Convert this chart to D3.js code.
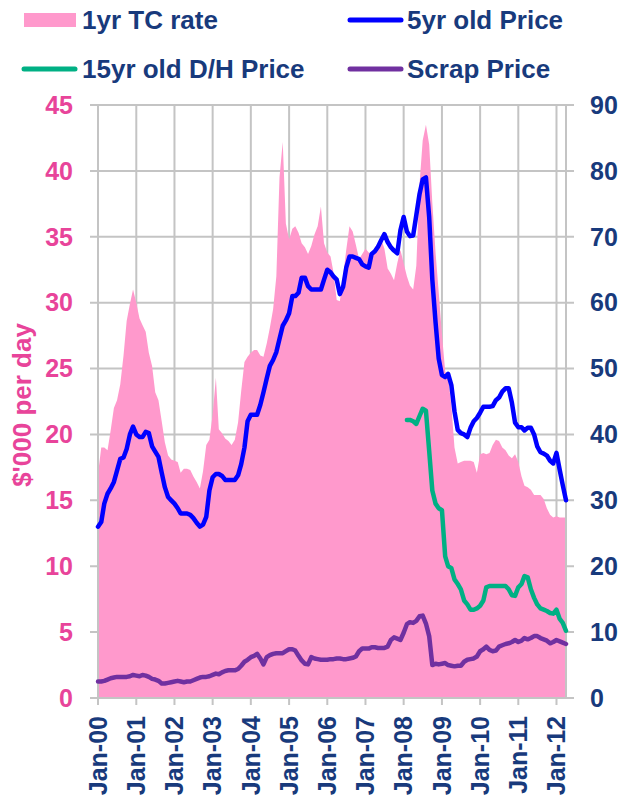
<!DOCTYPE html>
<html><head><meta charset="utf-8">
<script src="https://cdn.jsdelivr.net/npm/d3@7"></script>
<style>
body{margin:0;background:#fff}
svg{display:block}
text{font-family:"Liberation Sans",Arial,sans-serif;font-weight:bold}
</style>
</head><body>
<svg id="c" width="622" height="804"></svg>
<script>
// ---- data (monthly, Jan-2000 .. Apr-2012) ----
const startMonth = "2000-01";
const tcRate = [
 17.0,19.0,19.0,18.8,20.3,22.0,22.6,23.8,26.0,28.6,29.9,31.0,
 30.0,28.8,28.3,27.8,26.2,25.2,23.2,22.6,21.0,19.4,18.4,18.1,
 18.0,17.9,17.1,17.4,17.4,17.3,16.8,16.4,15.9,17.2,19.2,19.6,
 21.5,24.3,20.4,20.1,19.7,19.5,19.2,19.6,20.9,23.3,25.5,25.9,
 26.2,26.4,26.4,26.0,25.9,26.9,28.1,29.5,32.0,39.5,42.2,36.0,
 34.8,35.6,35.8,35.3,34.5,34.2,33.7,34.3,35.2,35.8,37.3,34.5,
 33.8,33.5,32.3,30.2,30.1,32.0,34.0,35.8,35.4,34.4,33.3,33.7,
 34.1,33.8,33.6,34.2,34.5,34.8,34.1,32.6,32.2,31.7,33.0,34.0,
 33.0,32.0,31.3,31.0,32.8,39.0,42.3,43.5,42.0,37.6,33.8,30.8,
 27.6,24.8,24.3,22.2,19.0,17.8,17.9,18.0,18.0,18.0,17.9,17.1,
 18.5,18.6,18.5,18.6,19.2,19.6,19.5,19.0,18.8,18.4,18.2,18.5,
 17.9,16.8,16.1,16.0,15.8,15.4,15.4,15.4,15.1,14.4,13.9,13.7,
 13.8,13.7,13.7,13.7
];
const price5yr = [
 26.0,26.7,29.5,31.0,31.8,32.8,34.5,36.3,36.5,37.8,40.0,41.2,
 40.0,39.6,39.6,40.4,40.2,38.2,37.4,36.6,34.2,32.0,30.5,30.0,
 29.5,28.8,28.0,28.0,28.0,27.8,27.3,26.6,26.0,26.3,27.5,31.5,
 33.5,34.0,34.0,33.7,33.1,33.1,33.1,33.1,33.8,35.5,38.0,42.0,
 43.0,43.0,43.0,44.5,46.4,48.5,50.4,51.3,52.5,54.5,56.5,57.3,
 58.4,61.0,61.0,61.5,63.8,63.8,62.5,62.0,62.0,62.0,62.0,63.5,
 65.0,64.6,64.0,63.5,61.3,62.4,65.3,67.0,67.0,66.8,66.6,65.8,
 65.5,65.3,67.4,67.8,68.5,69.5,70.4,69.2,68.4,67.9,67.5,71.0,
 73.0,70.8,70.1,70.2,73.3,76.5,78.7,79.0,73.0,63.5,57.0,51.5,
 49.0,48.7,49.2,47.5,43.5,40.7,40.2,40.0,39.6,41.0,42.0,42.5,
 43.3,44.2,44.2,44.2,44.3,45.2,45.6,46.5,47.0,47.0,44.8,41.8,
 41.1,41.1,40.6,41.0,41.0,40.0,38.2,37.3,37.1,36.8,36.0,35.6,
 37.2,34.6,32.3,30.0
];
const dhStartMonth = "2008-02";
const priceDH = [
           42.2,42.2,42.0,41.6,42.8,43.9,43.6,37.5,31.5,29.5,28.8,
 28.5,21.5,20.0,19.7,18.0,17.3,16.5,14.8,14.2,13.4,13.4,13.6,
 14.0,14.8,16.8,17.0,17.0,17.0,17.0,17.0,17.0,16.5,15.6,15.5,
 16.8,17.3,18.5,18.3,16.5,15.2,14.2,13.6,13.4,13.2,12.9,12.8,
 13.4,12.0,11.4,10.2
];
const scrap = [
 2.5,2.5,2.6,2.8,3.0,3.1,3.2,3.2,3.2,3.2,3.3,3.5,
 3.4,3.3,3.5,3.4,3.2,2.9,2.8,2.6,2.2,2.2,2.3,2.4,
 2.5,2.6,2.5,2.4,2.5,2.5,2.7,2.9,3.1,3.2,3.2,3.3,
 3.5,3.7,3.6,3.9,4.1,4.2,4.2,4.2,4.4,4.9,5.5,5.8,
 6.2,6.4,6.7,6.0,5.1,6.2,6.5,6.7,6.8,6.8,6.8,7.1,
 7.4,7.4,7.2,6.4,5.7,5.2,5.1,6.2,6.0,5.9,5.8,5.8,
 5.8,5.9,5.9,6.0,6.0,5.9,5.9,6.0,6.1,6.3,7.1,7.5,
 7.5,7.5,7.7,7.7,7.6,7.6,7.6,7.8,8.8,9.2,9.0,8.8,
 9.9,11.2,11.5,11.4,11.7,12.4,12.5,11.3,9.4,5.0,5.2,5.1,
 5.2,5.3,5.0,4.9,4.8,4.9,4.9,5.5,5.8,5.9,6.0,6.3,
 7.1,7.4,7.8,7.3,7.1,7.2,7.8,8.0,8.2,8.3,8.5,8.8,
 8.5,8.7,9.1,8.9,9.1,9.4,9.4,9.1,8.9,8.7,8.3,8.5,
 8.8,8.6,8.4,8.2
];
const xTickLabels = ["Jan-00","Jan-01","Jan-02","Jan-03","Jan-04","Jan-05","Jan-06",
                     "Jan-07","Jan-08","Jan-09","Jan-10","Jan-11","Jan-12"];
const leftTicks = [0,5,10,15,20,25,30,35,40,45];
const rightTicks = [0,10,20,30,40,50,60,70,80,90];
const seriesNames = ["1yr TC rate","5yr old Price","15yr old D/H Price","Scrap Price"];
const yTitle = "$'000 per day";

// ---- styles ----
const C = {pink:"#ff99cc", blue:"#0000ff", green:"#00b084", purple:"#7030a0",
           grid:"#c4c4c4", pinkText:"#e8449a", navy:"#183a7c"};

const svg = d3.select("#c");
const parse = d3.timeParse("%Y-%m");
const start = parse(startMonth);
const months = tcRate.map((_, i) => d3.timeMonth.offset(start, i));
const dhStart = parse(dhStartMonth);
const dhMonths = priceDH.map((_, i) => d3.timeMonth.offset(dhStart, i));
const tickDates = xTickLabels.map(s => d3.timeParse("%b-%y")(s));

const L = 98, R = 566, T = 105, B = 698;
const x = d3.scaleTime().domain([months[0], months[months.length-1]]).range([L, R]);
const yL = d3.scaleLinear().domain([0,45]).range([B, T]);
const yR = d3.scaleLinear().domain([0,90]).range([B, T]);

// grid
const g = svg.append("g");
g.selectAll(".hg").data(leftTicks).join("line")
  .attr("x1", L-8).attr("x2", R+8)
  .attr("y1", d => yL(d)).attr("y2", d => yL(d))
  .attr("stroke", C.grid).attr("stroke-width", 2);
g.selectAll(".vg").data(tickDates).join("line")
  .attr("x1", d => x(d)).attr("x2", d => x(d))
  .attr("y1", T).attr("y2", B+7)
  .attr("stroke", C.grid).attr("stroke-width", 2);

// area
svg.append("path").datum(tcRate)
  .attr("fill", C.pink)
  .attr("d", d3.area().x((d,i) => x(months[i])).y0(yL(0)).y1(d => yL(d)));

// axis lines
svg.append("line").attr("x1",L).attr("x2",L).attr("y1",T).attr("y2",B+7).attr("stroke",C.grid).attr("stroke-width",2);
svg.append("line").attr("x1",R).attr("x2",R).attr("y1",T).attr("y2",B).attr("stroke",C.grid).attr("stroke-width",2);
svg.append("line").attr("x1",L-8).attr("x2",R+8).attr("y1",B).attr("y2",B).attr("stroke",C.grid).attr("stroke-width",2);

// lines
function drawLine(vals, dates, scale, color){
  svg.append("path").datum(vals)
    .attr("fill","none").attr("stroke",color).attr("stroke-width",4.5)
    .attr("stroke-linejoin","round").attr("stroke-linecap","round")
    .attr("d", d3.line().x((d,i) => x(dates[i])).y(d => scale(d)));
}
drawLine(scrap, months, yR, C.purple);
drawLine(priceDH, dhMonths, yR, C.green);
drawLine(price5yr, months, yR, C.blue);

// tick labels
svg.selectAll(".lt").data(leftTicks).join("text")
  .attr("x", 73).attr("y", d => yL(d)).attr("dy","0.35em")
  .attr("text-anchor","end").attr("font-size",25).attr("fill",C.pinkText)
  .text(d => d);
svg.selectAll(".rt").data(rightTicks).join("text")
  .attr("x", 590).attr("y", d => yR(d)).attr("dy","0.35em")
  .attr("text-anchor","start").attr("font-size",25).attr("fill",C.navy)
  .text(d => d);
svg.selectAll(".xt").data(xTickLabels).join("text")
  .attr("transform",(d,i) => `translate(${x(tickDates[i])},716) rotate(-90)`)
  .attr("dy","0.35em").attr("text-anchor","end").attr("font-size",25).attr("fill",C.navy)
  .text(d => d);

// y title
svg.append("text").attr("transform","translate(22,405) rotate(-90)")
  .attr("dy","0.35em").attr("text-anchor","middle").attr("font-size",26)
  .attr("fill",C.pinkText).text(yTitle);

// legend
const lg = svg.append("g");
lg.append("rect").attr("x",24).attr("y",13).attr("width",52).attr("height",14).attr("fill",C.pink);
lg.append("text").attr("x",82).attr("y",29).attr("font-size",26).attr("fill",C.navy).text(seriesNames[0]);
lg.append("line").attr("x1",350).attr("x2",401).attr("y1",20).attr("y2",20).attr("stroke",C.blue).attr("stroke-width",5).attr("stroke-linecap","round");
lg.append("text").attr("x",407).attr("y",29).attr("font-size",26).attr("fill",C.navy).text(seriesNames[1]);
lg.append("line").attr("x1",24).attr("x2",75).attr("y1",69).attr("y2",69).attr("stroke",C.green).attr("stroke-width",5).attr("stroke-linecap","round");
lg.append("text").attr("x",82).attr("y",78).attr("font-size",26).attr("fill",C.navy).text(seriesNames[2]);
lg.append("line").attr("x1",350).attr("x2",401).attr("y1",69).attr("y2",69).attr("stroke",C.purple).attr("stroke-width",5).attr("stroke-linecap","round");
lg.append("text").attr("x",407).attr("y",78).attr("font-size",26).attr("fill",C.navy).text(seriesNames[3]);
</script>
</body></html>
